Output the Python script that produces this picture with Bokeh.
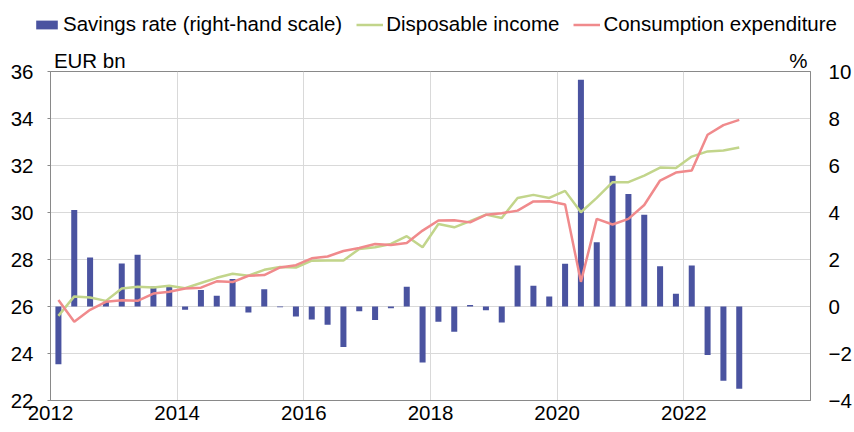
from bokeh.plotting import figure
from bokeh.models import Range1d, LinearAxis, FixedTicker, Legend, LegendItem, ColumnDataSource
from bokeh.layouts import column
from bokeh.embed import file_html
from bokeh.resources import INLINE

# ---- data (quarterly, 2012Q1 - 2022Q4) ----
years = list(range(2012, 2023))
quarters = [f"{y}Q{q}" for y in years for q in (1, 2, 3, 4)]

savings_rate = [
    -2.46, 4.11, 2.09, 0.20,
    1.83, 2.20, 0.85, 0.85,
    -0.14, 0.70, 0.46, 1.17,
    -0.26, 0.73, -0.03, -0.43,
    -0.55, -0.78, -1.72, -0.20,
    -0.57, -0.07, 0.84, -2.38,
    -0.65, -1.07, 0.06, -0.16,
    -0.68, 1.74, 0.88, 0.43,
    1.82, 9.65, 2.73, 5.56,
    4.79, 3.90, 1.71, 0.54,
    1.74, -2.06, -3.16, -3.50,
]

disposable_income = [
    25.60, 26.43, 26.38, 26.24,
    26.77, 26.84, 26.81, 26.88,
    26.78, 27.00, 27.22, 27.39,
    27.31, 27.56, 27.68, 27.66,
    27.95, 27.96, 27.96, 28.45,
    28.52, 28.66, 28.99, 28.52,
    29.51, 29.37, 29.63, 29.91,
    29.77, 30.62, 30.75, 30.62,
    30.92, 30.01, 30.62, 31.29,
    31.29, 31.57, 31.91, 31.89,
    32.38, 32.60, 32.64, 32.77,
]

consumption = [
    26.28, 25.35, 25.86, 26.20,
    26.27, 26.24, 26.55, 26.63,
    26.77, 26.80, 27.07, 27.04,
    27.31, 27.34, 27.66, 27.76,
    28.05, 28.13, 28.36, 28.49,
    28.66, 28.62, 28.70, 29.23,
    29.66, 29.67, 29.58, 29.90,
    29.97, 30.08, 30.47, 30.48,
    30.34, 27.05, 29.73, 29.49,
    29.73, 30.32, 31.36, 31.70,
    31.79, 33.31, 33.72, 33.94,
]

series_names = ["Savings rate (right-hand scale)", "Disposable income", "Consumption expenditure"]
x_ticks = [2012, 2014, 2016, 2018, 2020, 2022]
left_ticks = [22, 24, 26, 28, 30, 32, 34, 36]
right_ticks = [-4, -2, 0, 2, 4, 6, 8, 10]
unit_labels = {2012.62: "EUR bn", 2023.81: "%"}

# quarter mid-points in fractional years
xq = [int(q[:4]) + (int(q[-1]) - 0.5) / 4 for q in quarters]

src = ColumnDataSource(dict(x=xq, sav=savings_rate, inc=disposable_income, con=consumption))

FONT = "Liberation Sans"
FS = "20.5px"
BAR = "#4a53a0"
GREEN = "#c2d58b"
RED = "#f08a8c"
GRID = "#d9d9d9"
AXIS = "#898989"
W = 854
H_HEAD = 45

# ---------------- legend strip ----------------
head = figure(width=W, height=H_HEAD, output_backend="svg", toolbar_location=None,
              x_range=Range1d(0, 1), y_range=Range1d(0, 1),
              x_axis_type=None, y_axis_type=None, min_border=0)
head.frame_align = False
head.outline_line_color = None
head.xgrid.visible = False
head.ygrid.visible = False
# legend-key renderers: one point each, placed outside the visible range
key = ColumnDataSource(dict(x=[-5, -4], y=[-5, -5], top=[-5, -5]))
lb = head.vbar(x="x", top="top", width=0.1, source=key, fill_color=BAR, line_color=None)
lg = head.line(x="x", y="y", source=key, line_color=GREEN, line_width=2.5)
lr = head.line(x="x", y="y", source=key, line_color=RED, line_width=2.5)
legend = Legend(items=[
    LegendItem(label=series_names[0], renderers=[lb]),
    LegendItem(label=series_names[1], renderers=[lg]),
    LegendItem(label=series_names[2], renderers=[lr]),
], orientation="horizontal", location=(33, 9))
legend.glyph_width = 27
legend.glyph_height = 11
legend.label_standoff = 3
legend.spacing = 14
legend.padding = 0
legend.margin = 0
legend.border_line_color = None
legend.background_fill_alpha = 0
legend.label_text_font = FONT
legend.label_text_font_size = FS
legend.label_text_color = "#000000"
legend.label_height = 20
head.add_layout(legend, "center")

# ---------------- main chart ----------------
p = figure(width=W, height=432 - H_HEAD, output_backend="svg", toolbar_location=None,
           x_range=Range1d(2012, 2024), y_range=Range1d(22, 36),
           min_border_left=50, min_border_right=43, min_border_top=23, min_border_bottom=32)
p.frame_align = False
p.extra_y_ranges = {"right": Range1d(-4, 10)}

p.outline_line_color = AXIS
p.outline_line_width = 1
p.background_fill_color = "white"
p.border_fill_color = "white"

p.xgrid.ticker = FixedTicker(ticks=x_ticks + [2024])
p.ygrid.ticker = FixedTicker(ticks=left_ticks)
p.xgrid.grid_line_color = GRID
p.ygrid.grid_line_color = GRID

xa = p.xaxis[0]
xa.ticker = FixedTicker(ticks=x_ticks)
ya = p.yaxis[0]
ya.ticker = FixedTicker(ticks=left_ticks)

for ax in (xa, ya):
    ax.axis_line_color = AXIS
    ax.major_tick_line_color = AXIS
    ax.minor_tick_line_color = None
    ax.major_tick_in = 0
    ax.major_label_text_font = FONT
    ax.major_label_text_font_size = FS
    ax.major_label_text_color = "#000000"
xa.major_tick_out = 0
xa.major_label_standoff = 5
ya.major_tick_out = 3
ya.major_label_standoff = 14

ra = LinearAxis(y_range_name="right", ticker=FixedTicker(ticks=right_ticks))
ra.axis_line_color = AXIS
ra.major_tick_line_color = None
ra.minor_tick_line_color = None
ra.major_tick_in = 0
ra.major_tick_out = 0
ra.major_label_standoff = 18
ra.major_label_text_font = FONT
ra.major_label_text_font_size = FS
ra.major_label_text_color = "#000000"
p.add_layout(ra, "right")

# unit captions above the frame ("EUR bn" left, "%" right)
ua = LinearAxis(ticker=FixedTicker(ticks=list(unit_labels.keys())),
                major_label_overrides=unit_labels)
ua.axis_line_color = None
ua.major_tick_line_color = None
ua.minor_tick_line_color = None
ua.major_tick_in = 0
ua.major_tick_out = 0
ua.major_label_standoff = 0
ua.major_label_text_font = FONT
ua.major_label_text_font_size = FS
ua.major_label_text_color = "#000000"
p.add_layout(ua, "above")

p.vbar(x="x", top="sav", bottom=0, width=0.095, source=src,
       fill_color=BAR, line_color=None, y_range_name="right")
p.line(x="x", y="inc", source=src, line_color=GREEN, line_width=2.5)
p.line(x="x", y="con", source=src, line_color=RED, line_width=2.5)

layout = column(head, p, spacing=0)
open("out.html", "w").write(file_html(layout, INLINE))
